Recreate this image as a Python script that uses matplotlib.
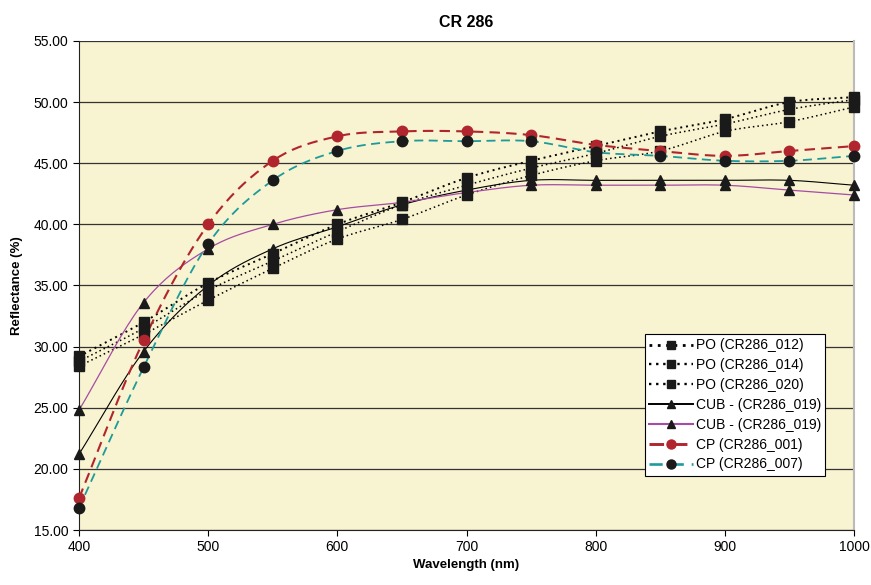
import numpy as np
import matplotlib
matplotlib.use('Agg')
import matplotlib.pyplot as plt
from matplotlib.ticker import FormatStrFormatter

plt.rcParams['font.family'] = ['Liberation Sans', 'DejaVu Sans']

# ── Data ─────────────────────────────────────────────────────────────────────
wavelength = [400, 450, 500, 550, 600, 650, 700, 750, 800, 850, 900, 950, 1000]

po_012 = [29.2, 32.0, 35.2, 37.6, 40.0, 41.8, 43.8, 45.2, 46.4, 47.6, 48.6, 50.0, 50.4]
po_014 = [28.8, 31.5, 34.6, 37.0, 39.4, 41.6, 43.2, 44.6, 45.8, 47.2, 48.2, 49.4, 50.2]
po_020 = [28.4, 31.0, 33.8, 36.4, 38.8, 40.4, 42.4, 44.0, 45.2, 46.0, 47.6, 48.4, 49.6]
cub_a = [21.2, 29.6, 35.0, 38.0, 39.8, 41.6, 42.8, 43.6, 43.6, 43.6, 43.6, 43.6, 43.2]
cub_b = [24.8, 33.6, 38.0, 40.0, 41.2, 41.8, 42.6, 43.2, 43.2, 43.2, 43.2, 42.8, 42.4]
cp_001 = [17.6, 30.5, 40.0, 45.2, 47.2, 47.6, 47.6, 47.3, 46.5, 46.0, 45.6, 46.0, 46.4]
cp_007 = [16.8, 28.3, 38.4, 43.6, 46.0, 46.8, 46.8, 46.8, 45.9, 45.6, 45.2, 45.2, 45.6]

labels = ['PO (CR286_012)', 'PO (CR286_014)', 'PO (CR286_020)',
          'CUB - (CR286_019)', 'CUB - (CR286_019)',
          'CP (CR286_001)', 'CP (CR286_007)']


def smooth(x, y, n=20):
    """Catmull-Rom curve through the points, like Excel's smoothed line."""
    x = np.asarray(x, float); y = np.asarray(y, float)
    px = np.concatenate([[2*x[0]-x[1]], x, [2*x[-1]-x[-2]]])
    py = np.concatenate([[2*y[0]-y[1]], y, [2*y[-1]-y[-2]]])
    xs, ys = [], []
    t = np.linspace(0, 1, n, endpoint=False)
    for i in range(1, len(px)-2):
        for arr, out in ((px, xs), (py, ys)):
            p0, p1, p2, p3 = arr[i-1], arr[i], arr[i+1], arr[i+2]
            out.extend(0.5*((2*p1) + (-p0+p2)*t + (2*p0-5*p1+4*p2-p3)*t**2
                            + (-p0+3*p1-3*p2+p3)*t**3))
    xs.append(x[-1]); ys.append(y[-1])
    return np.array(xs), np.array(ys)


RED = '#B0252E'
TEAL = '#1E9A9A'
PURPLE = '#A64CA6'
MK = '#1a1a1a'

series = [
    (po_012, dict(color='black', ls=(0, (1, 2)), lw=1.4, marker='s', ms=7)),
    (po_014, dict(color='black', ls=(0, (1, 2)), lw=1.1, marker='s', ms=7)),
    (po_020, dict(color='black', ls=(0, (1, 2)), lw=1.1, marker='s', ms=7)),
    (cub_a, dict(color='black', ls='-', lw=0.8, marker='^', ms=7)),
    (cub_b, dict(color=PURPLE, ls='-', lw=0.9, marker='^', ms=7)),
    (cp_001, dict(color=RED, ls=(0, (5, 3)), lw=1.5, marker='o', ms=7.5, mfc=RED)),
    (cp_007, dict(color=TEAL, ls=(0, (5, 3)), lw=1.3, marker='o', ms=7.5, mfc=MK)),
]

fig = plt.figure(figsize=(8.71, 5.85), dpi=100)
ax = fig.add_axes([0.0907, 0.094, 0.8898, 0.836])
ax.set_facecolor('#F8F3D0')

handles = []
for (vals, st), lab in zip(series, labels):
    sx, sy = smooth(wavelength, vals)
    ax.plot(sx, sy, color=st['color'], linestyle=st['ls'], linewidth=st['lw'], zorder=2)
    ax.plot(wavelength, vals, linestyle='none', marker=st['marker'], markersize=st['ms'],
            color=st.get('mfc', MK), markeredgecolor=st.get('mfc', MK),
            zorder=3, clip_on=False)
    h, = ax.plot([], [], color=st['color'], linestyle=st['ls'], linewidth=st['lw'] + 0.6,
                 marker=st['marker'], markersize=st['ms'] - 1,
                 markerfacecolor=st.get('mfc', MK), markeredgecolor=st.get('mfc', MK))
    handles.append(h)

ax.set_xlim(400, 1000)
ax.set_ylim(15, 55)
ax.set_xticks(range(400, 1001, 100))
ax.set_yticks(np.arange(15, 55.1, 5))
ax.yaxis.set_major_formatter(FormatStrFormatter('%.2f'))
ax.grid(axis='y', color='#333333', linewidth=0.9)
ax.set_axisbelow(True)
ax.spines['top'].set_visible(False)
ax.spines['right'].set_color('#bbbbbb')
ax.spines['right'].set_linewidth(1.5)
ax.spines['left'].set_color('#222222')
ax.spines['bottom'].set_color('#222222')
ax.tick_params(labelsize=10, length=4, direction='out')

ax.set_title('CR 286', fontsize=11.5, fontweight='bold', pad=10)
ax.set_xlabel('Wavelength (nm)', fontsize=9.5, fontweight='bold', labelpad=3)
ax.set_ylabel('Reflectance (%)', fontsize=9.5, fontweight='bold', labelpad=8)

leg = ax.legend(handles, labels, loc='lower right', bbox_to_anchor=(0.972, 0.097),
                fontsize=10, frameon=True, fancybox=False, framealpha=1,
                edgecolor='black', handlelength=3.2, labelspacing=0.42,
                borderpad=0.3, handletextpad=0.2)
leg.get_frame().set_linewidth(0.8)

fig.savefig('out.png', dpi=100)
